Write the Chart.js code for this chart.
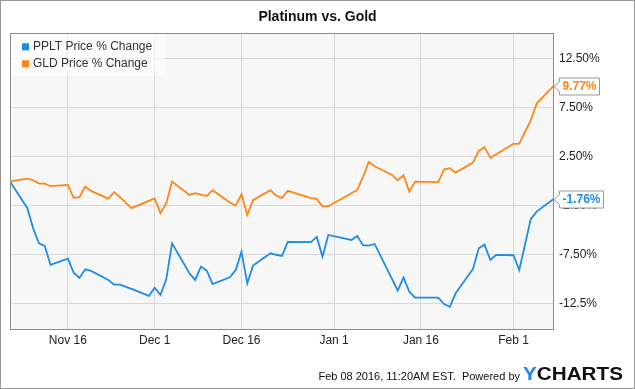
<!DOCTYPE html>
<html>
<head>
<meta charset="utf-8">
<script src="https://cdn.jsdelivr.net/npm/chart.js@4.4.1/dist/chart.umd.min.js"></script>
<style>
  html, body { margin: 0; padding: 0; background: #fff; }
  canvas { display: block; }
</style>
</head>
<body>
<canvas id="chart" width="635" height="389"></canvas>
<script>
// trading days, Nov 6 2015 -> Feb 8 2016
const dates = [
  '2015-11-06', '2015-11-09', '2015-11-10', '2015-11-11', '2015-11-12', '2015-11-13', '2015-11-16', '2015-11-17',
  '2015-11-18', '2015-11-19', '2015-11-20', '2015-11-23', '2015-11-24', '2015-11-25', '2015-11-27', '2015-11-30',
  '2015-12-01', '2015-12-02', '2015-12-03', '2015-12-04', '2015-12-07', '2015-12-08', '2015-12-09', '2015-12-10',
  '2015-12-11', '2015-12-14', '2015-12-15', '2015-12-16', '2015-12-17', '2015-12-18', '2015-12-21', '2015-12-22',
  '2015-12-23', '2015-12-24', '2015-12-28', '2015-12-29', '2015-12-30', '2015-12-31',
  '2016-01-04', '2016-01-05', '2016-01-06', '2016-01-07', '2016-01-08', '2016-01-11', '2016-01-12', '2016-01-13',
  '2016-01-14', '2016-01-15', '2016-01-19', '2016-01-20', '2016-01-21', '2016-01-22', '2016-01-25', '2016-01-26',
  '2016-01-27', '2016-01-28', '2016-01-29',
  '2016-02-01', '2016-02-02', '2016-02-03', '2016-02-04', '2016-02-05', '2016-02-08'
];

const ppltChange = [
  0, -2.73, -4.78, -6.31, -6.58, -8.52, -7.88, -9.31, -9.85, -8.96, -9.13, -10.05, -10.53, -10.53, -10.96, -11.68,
  -10.84, -11.58, -9.98, -6.31, -9.37, -10.05, -8.69, -9.10, -10.46, -9.78, -9.03, -7.16, -10.39, -8.59, -7.33, -7.48,
  -7.60, -6.17, -6.20, -5.66, -7.67, -5.46,
  -5.97, -5.56, -6.51, -6.55, -6.38, -9.93, -11.14, -9.80, -11.24, -11.86, -11.86, -12.50, -12.78, -11.41, -8.93, -6.82,
  -6.45, -8.01, -7.50,
  -7.53, -9.03, -6.41, -3.83, -3.08, -1.76
];

const gldChange = [
  0, 0.29, 0.12, -0.22, -0.22, -0.49, -0.36, -1.68, -1.61, -0.53, -0.97, -1.76, -1.10, -1.61, -2.73, -1.99,
  -1.73, -3.24, -2.22, -0.02, -1.38, -1.20, -1.34, -1.48, -0.90, -2.16, -2.47, -1.31, -3.42, -1.92, -0.90, -1.45,
  -1.68, -0.97, -1.71, -1.79, -2.57, -2.53,
  -1.21, -0.87, 0.47, 1.99, 1.55, 0.66, 0.12, 0.63, -1.04, -0.02, -0.08, 1.20, 1.35, 0.90, 1.92, 3.11,
  3.49, 2.40, 2.76,
  3.83, 3.86, 5.08, 6.24, 7.94, 9.77
];

const seriesNames = ['PPLT Price % Change', 'GLD Price % Change'];
const seriesColors = ['#1f8ce6', '#ff8519'];

const xTickDates = ['2015-11-16', '2015-12-01', '2015-12-16', '2016-01-01', '2016-01-16', '2016-02-01'];
const xTickLabels = ['Nov 16', 'Dec 1', 'Dec 16', 'Jan 1', 'Jan 16', 'Feb 1'];
const yTickValues = [12.5, 7.5, 2.5, -2.5, -7.5, -12.5];
const yTickLabels = ['12.50%', '7.50%', '2.50%', '-2.50%', '-7.50%', '-12.5%'];

const FONT = "'Liberation Sans', Arial, sans-serif";
const startDate = '2015-11-06';
const endDate = '2016-02-08';
const dayNum = s => (Date.parse(s) - Date.parse(startDate)) / 86400000;
const xTickValues = xTickDates.map(dayNum);

const toPoints = vals => dates.map((d, i) => ({ x: dayNum(d), y: vals[i] }));

// background, legend box, frame, end-value badges, footer
const decor = {
  id: 'decor',
  beforeDraw(chart) {
    const { ctx, chartArea: a } = chart;
    ctx.save();
    ctx.fillStyle = '#fff';
    ctx.fillRect(0, 0, chart.width, chart.height);
    ctx.fillStyle = '#f7f7f7';
    ctx.fillRect(a.left, a.top, a.right - a.left, a.bottom - a.top);
    ctx.restore();
  },
  afterDatasetsDraw(chart) {
    const { ctx, chartArea: a } = chart;
    ctx.save();
    ctx.fillStyle = 'rgba(255,255,255,0.6)';
    ctx.fillRect(a.left + 1, a.top, 154, 43);
    ctx.font = '12px ' + FONT;
    ctx.textBaseline = 'middle';
    chart.data.datasets.forEach((ds, i) => {
      const y = a.top + 14 + i * 17;
      ctx.fillStyle = ds.borderColor;
      ctx.fillRect(a.left + 12, y - 3.5, 7, 7);
      ctx.fillStyle = '#333';
      ctx.fillText(ds.label, a.left + 23, y);
    });
    ctx.restore();
  },
  afterDraw(chart) {
    const { ctx, chartArea: a } = chart;
    ctx.save();
    // plot frame
    ctx.strokeStyle = '#8c8c8c';
    ctx.lineWidth = 1;
    ctx.strokeRect(Math.round(a.left) + 0.5, Math.round(a.top) + 0.5,
      Math.round(a.right - a.left) - 1, Math.round(a.bottom - a.top));
    // outer frame
    ctx.strokeStyle = '#999';
    ctx.strokeRect(0.5, 0.5, chart.width - 1, chart.height - 1);

    // last-value badges
    ctx.font = 'bold 12px ' + FONT;
    ctx.textBaseline = 'middle';
    ctx.textAlign = 'center';
    chart.data.datasets.forEach((ds, i) => {
      const meta = chart.getDatasetMeta(i);
      const pt = meta.data[meta.data.length - 1];
      const val = ds.data[ds.data.length - 1].y;
      const txt = val.toFixed(2) + '%';
      const y = Math.round(pt.y) + 0.5;
      const bx = Math.round(a.right) + 5.5;
      const w = Math.round(ctx.measureText(txt).width) + 6;
      const h = 17;
      const top = y - h / 2;
      ctx.beginPath();
      ctx.moveTo(a.right, y);
      ctx.lineTo(bx, y - 5);
      ctx.lineTo(bx, top);
      ctx.lineTo(bx + w, top);
      ctx.lineTo(bx + w, top + h);
      ctx.lineTo(bx, top + h);
      ctx.lineTo(bx, y + 5);
      ctx.closePath();
      ctx.fillStyle = '#fff';
      ctx.fill();
      ctx.strokeStyle = '#999';
      ctx.stroke();
      ctx.fillStyle = ds.borderColor;
      ctx.fillText(txt, bx + w / 2, y + 0.5);
    });

    // footer
    ctx.textAlign = 'right';
    ctx.textBaseline = 'alphabetic';
    ctx.font = '11px ' + FONT;
    ctx.fillStyle = '#111';
    ctx.fillText('Feb 08 2016, 11:20AM EST.  Powered by', 520, 379.5);
    ctx.textAlign = 'left';
    ctx.font = 'bold 19px ' + FONT;
    const logo = 'YCHARTS';
    const lw = ctx.measureText(logo).width;
    const sx = 100 / lw;
    ctx.translate(523, 379.5);
    ctx.scale(sx, 1);
    ctx.fillStyle = '#1e88e5';
    ctx.fillText('Y', 0, 0);
    ctx.fillStyle = '#111';
    ctx.fillText('CHARTS', ctx.measureText('Y').width, 0);
    ctx.restore();
  }
};

new Chart(document.getElementById('chart'), {
  type: 'line',
  data: {
    datasets: [
      { label: seriesNames[0], data: toPoints(ppltChange), borderColor: seriesColors[0] },
      { label: seriesNames[1], data: toPoints(gldChange), borderColor: seriesColors[1] }
    ]
  },
  options: {
    responsive: false,
    animation: false,
    devicePixelRatio: 1,
    layout: { padding: { left: 10, right: 10, top: 0, bottom: 0 } },
    elements: {
      point: { radius: 0 },
      line: { borderWidth: 1.8, tension: 0 }
    },
    plugins: {
      legend: { display: false },
      tooltip: { enabled: false },
      title: {
        display: true,
        text: 'Platinum vs. Gold',
        color: '#111',
        font: { family: FONT, size: 14, weight: 'bold' },
        padding: { top: 9, bottom: 7 }
      }
    },
    scales: {
      x: {
        type: 'linear',
        min: 0,
        max: dayNum(endDate),
        afterBuildTicks: s => { s.ticks = xTickValues.map(v => ({ value: v })); },
        afterFit: s => { s.height = 60; },
        grid: { color: '#d9d9d9', drawTicks: false },
        border: { display: false },
        ticks: {
          autoSkip: false,
          maxRotation: 0,
          padding: 4,
          color: '#222',
          font: { family: FONT, size: 12 },
          callback: v => xTickLabels[xTickValues.indexOf(v)]
        }
      },
      y: {
        position: 'right',
        min: -15.05,
        max: 15.15,
        afterBuildTicks: s => { s.ticks = yTickValues.map(v => ({ value: v })); },
        afterFit: s => { s.width = 71; },
        grid: { color: '#d9d9d9', drawTicks: false },
        border: { display: false },
        ticks: {
          padding: 5,
          color: '#222',
          font: { family: FONT, size: 12 },
          callback: v => yTickLabels[yTickValues.indexOf(v)]
        }
      }
    }
  },
  plugins: [decor]
});
</script>
</body>
</html>
